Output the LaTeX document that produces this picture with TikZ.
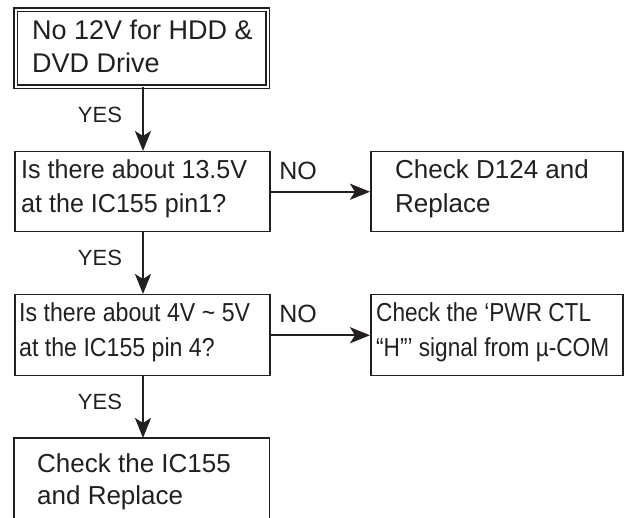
\documentclass[tikz,border=0pt]{standalone}
\usepackage{fontspec}
\setmainfont{Liberation Sans}
\newfontfamily\narrowA[FakeStretch=0.965]{Liberation Sans}
\newfontfamily\narrowB[FakeStretch=0.89]{Liberation Sans}
\newfontfamily\narrowC[FakeStretch=0.87]{Liberation Sans}
\usetikzlibrary{arrows.meta}
\definecolor{ink}{HTML}{231F20}
\begin{document}
\begin{tikzpicture}[x=1pt,y=-1pt,
  box/.style={draw=ink, line width=1.5pt, inner sep=0pt, anchor=north west},
  txt/.style={anchor=west, align=left, inner sep=0pt, text=ink, font=\fontsize{26}{34.5}\selectfont},
  lbl/.style={inner sep=0pt, text=ink, font=\fontsize{22}{26}\selectfont},
  arr/.style={draw=ink, line width=2.4pt, -{Stealth[length=20pt,width=16pt,inset=5pt]}}]
\useasboundingbox (0,0) rectangle (629,518);
% boxes
\node[box, double, double distance=2pt, line width=1.2pt, minimum width=252pt, minimum height=77pt] (start) at (15,9) {};
\node[box, minimum width=255pt, minimum height=80pt] (q1) at (14,151) {};
\node[box, minimum width=252pt, minimum height=80pt] (a1) at (370,151) {};
\node[box, minimum width=255pt, minimum height=81pt] (q2) at (14,294) {};
\node[box, minimum width=252pt, minimum height=81pt] (a2) at (370,294) {};
\node[inner sep=0pt, anchor=north west, minimum width=255pt, minimum height=82pt] (end) at (14,438) {};
\draw[draw=ink, line width=1.5pt] (end.south west) -- (end.north west) -- (end.north east) -- (end.south east);
% texts
\node[txt, font=\fontsize{27}{33}\selectfont] (startt) at ([xshift=17pt,yshift=1.5pt]start.west) {No 12V for HDD \&\\DVD Drive};
\node[txt, font=\narrowA\fontsize{26}{34.5}\selectfont] (q1t) at ([xshift=7pt,yshift=3pt]q1.west) {Is there about 13.5V\\at the IC155 pin1?};
\node[txt] (a1t) at ([xshift=25pt,yshift=3pt]a1.west) {Check D124 and\\Replace};
\node[txt, font=\narrowB\fontsize{26}{34.5}\selectfont] (q2t) at ([xshift=5pt,yshift=3pt]q2.west) {Is there about 4V \char`~\ 5V\\at the IC155 pin 4?};
\node[txt, font=\narrowC\fontsize{26}{34.5}\selectfont] (a2t) at ([xshift=6pt,yshift=3pt]a2.west) {Check the ‘PWR CTL\\“H”’ signal from µ-COM};
\node[txt, anchor=base west, font=\fontsize{26}{32}\selectfont] (endt) at (37,504) {Check the IC155\\and Replace};
% connectors
\coordinate (c0) at (143,0);
\draw[arr] (start.south -| c0) -- (q1.north -| c0);
\draw[arr] (q1.south -| c0) -- (q2.north -| c0);
\draw[arr] (q2.south -| c0) -- (end.north -| c0);
\draw[arr] (q1.east) -- (a1.west);
\draw[arr] (q2.east) -- (a2.west);
% labels
\node[lbl] (y1) at (100,115) {YES};
\node[lbl] (y2) at (100,258) {YES};
\node[lbl] (y3) at (100,402) {YES};
\node[lbl, font=\fontsize{25}{28}\selectfont] (n1) at (298,171) {NO};
\node[lbl, font=\fontsize{25}{28}\selectfont] (n2) at (298,314) {NO};
\end{tikzpicture}
\end{document}
